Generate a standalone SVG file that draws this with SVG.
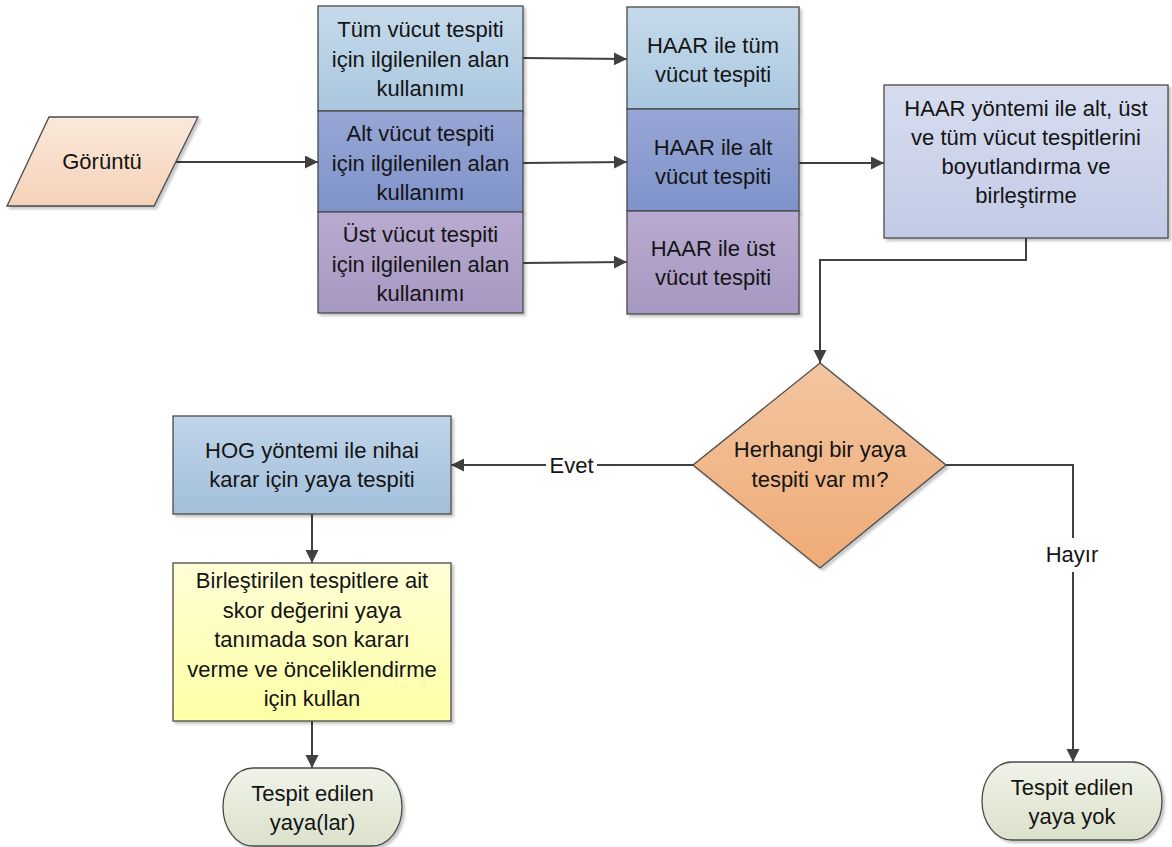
<svg xmlns="http://www.w3.org/2000/svg" width="1172" height="847" viewBox="0 0 1172 847">
<style>
.shape{stroke:#4a4a4a;stroke-width:1.3;filter:url(#sh)}
.conn{fill:none;stroke:#404040;stroke-width:2}
.arr{marker-end:url(#ah)}
text{font-family:'Liberation Sans',Arial,sans-serif;font-size:22px;fill:#141414;text-anchor:middle}
</style>
<defs>
<filter id="sh" x="-10%" y="-10%" width="125%" height="125%">
<feDropShadow dx="2.5" dy="2.5" stdDeviation="1.2" flood-color="#000" flood-opacity="0.22"/>
</filter>
<marker id="ah" markerUnits="userSpaceOnUse" markerWidth="14" markerHeight="14" refX="13" refY="6.5" orient="auto">
<path d="M0,0 L13,6.5 L0,13 z" fill="#404040"/>
</marker>
<linearGradient id="gPeach" x1="0" y1="0" x2="0" y2="1"><stop offset="0" stop-color="#fbe8da"/><stop offset="1" stop-color="#f5d2b9"/></linearGradient>
<linearGradient id="gLBlue" x1="0" y1="0" x2="0" y2="1"><stop offset="0" stop-color="#c6daea"/><stop offset="1" stop-color="#a9c7df"/></linearGradient>
<linearGradient id="gBlue" x1="0" y1="0" x2="0" y2="1"><stop offset="0" stop-color="#97a6d5"/><stop offset="1" stop-color="#7f93ca"/></linearGradient>
<linearGradient id="gLav" x1="0" y1="0" x2="0" y2="1"><stop offset="0" stop-color="#b8aad0"/><stop offset="1" stop-color="#a798c2"/></linearGradient>
<linearGradient id="gPeri" x1="0" y1="0" x2="0" y2="1"><stop offset="0" stop-color="#d7ddef"/><stop offset="1" stop-color="#c2cae6"/></linearGradient>
<linearGradient id="gOrange" x1="0" y1="0" x2="0" y2="1"><stop offset="0" stop-color="#f3c5a0"/><stop offset="1" stop-color="#eeab76"/></linearGradient>
<linearGradient id="gHog" x1="0" y1="0" x2="0" y2="1"><stop offset="0" stop-color="#bfd5e9"/><stop offset="1" stop-color="#a3bfdb"/></linearGradient>
<linearGradient id="gYel" x1="0" y1="0" x2="0" y2="1"><stop offset="0" stop-color="#fefed6"/><stop offset="1" stop-color="#ffffa6"/></linearGradient>
<linearGradient id="gTerm" x1="0" y1="0" x2="0" y2="1"><stop offset="0" stop-color="#f0f3e8"/><stop offset="1" stop-color="#dbe1cb"/></linearGradient>
</defs>

<g id="connectors">
<path class="conn arr" d="M176,162 H318"/>
<path class="conn arr" d="M523,58 L627,59"/>
<path class="conn arr" d="M523,163 L627,162"/>
<path class="conn arr" d="M523,263 L627,262"/>
<path class="conn arr" d="M799,163 H884"/>
<path class="conn arr" d="M1026,238 V260 H820 V363"/>
<path class="conn" d="M693,465 H597"/>
<path class="conn arr" d="M546,465 H451"/>
<text x="571.5" y="473">Evet</text>
<path class="conn arr" d="M312,514 V563"/>
<path class="conn arr" d="M312,721 V768"/>
<path class="conn" d="M946,465 H1073 V538"/>
<path class="conn arr" d="M1073,572 V762"/>
<text x="1072" y="562">Hayır</text>
</g>

<g id="goruntu">
<polygon class="shape" points="49,117 198,117 154,206 7,206" fill="url(#gPeach)"/>
<text x="102" y="169">Görüntü</text>
</g>

<g id="roi-tum">
<rect class="shape" x="318" y="6" width="205" height="105" fill="url(#gLBlue)"/>
<text x="420.5" y="37">Tüm vücut tespiti</text>
<text x="420.5" y="67">için ilgilenilen alan</text>
<text x="420.5" y="96">kullanımı</text>
</g>
<g id="roi-alt">
<rect class="shape" x="318" y="111" width="205" height="101" fill="url(#gBlue)"/>
<text x="420.5" y="141">Alt vücut tespiti</text>
<text x="420.5" y="171">için ilgilenilen alan</text>
<text x="420.5" y="200">kullanımı</text>
</g>
<g id="roi-ust">
<rect class="shape" x="318" y="212" width="205" height="101" fill="url(#gLav)"/>
<text x="420.5" y="242">Üst vücut tespiti</text>
<text x="420.5" y="272">için ilgilenilen alan</text>
<text x="420.5" y="301">kullanımı</text>
</g>

<g id="haar-tum">
<rect class="shape" x="627" y="7" width="172" height="102" fill="url(#gLBlue)"/>
<text x="713" y="53">HAAR ile tüm</text>
<text x="713" y="82">vücut tespiti</text>
</g>
<g id="haar-alt">
<rect class="shape" x="627" y="109" width="172" height="102" fill="url(#gBlue)"/>
<text x="713" y="155">HAAR ile alt</text>
<text x="713" y="184">vücut tespiti</text>
</g>
<g id="haar-ust">
<rect class="shape" x="627" y="211" width="172" height="103" fill="url(#gLav)"/>
<text x="713" y="256">HAAR ile üst</text>
<text x="713" y="285">vücut tespiti</text>
</g>

<g id="birlestirme">
<rect class="shape" x="884" y="85" width="284" height="153" fill="url(#gPeri)"/>
<text x="1026" y="116">HAAR yöntemi ile alt, üst</text>
<text x="1026" y="145">ve tüm vücut tespitlerini</text>
<text x="1026" y="174">boyutlandırma ve</text>
<text x="1026" y="203">birleştirme</text>
</g>

<g id="karar">
<polygon class="shape" points="820,363 946,465 820,568 693,465" fill="url(#gOrange)"/>
<text x="820" y="457">Herhangi bir yaya</text>
<text x="820" y="487">tespiti var mı?</text>
</g>

<g id="hog">
<rect class="shape" x="173" y="416" width="278" height="98" fill="url(#gHog)"/>
<text x="312" y="458">HOG yöntemi ile nihai</text>
<text x="312" y="487">karar için yaya tespiti</text>
</g>

<g id="skor">
<rect class="shape" x="173" y="563" width="278" height="158" fill="url(#gYel)"/>
<text x="312" y="588">Birleştirilen tespitlere ait</text>
<text x="312" y="617.5">skor değerini yaya</text>
<text x="312" y="647">tanımada son kararı</text>
<text x="312" y="676.5">verme ve önceliklendirme</text>
<text x="312" y="706">için kullan</text>
</g>

<g id="yaya-var">
<path class="shape" d="M253,768 H372 A30,39 0 0 1 372,846 H253 A30,39 0 0 1 253,768 Z" fill="url(#gTerm)"/>
<text x="312.5" y="801">Tespit edilen</text>
<text x="312.5" y="830">yaya(lar)</text>
</g>

<g id="yaya-yok">
<path class="shape" d="M1012,762 H1132 A30,39 0 0 1 1132,840 H1012 A30,39 0 0 1 1012,762 Z" fill="url(#gTerm)"/>
<text x="1072" y="795">Tespit edilen</text>
<text x="1072" y="824">yaya yok</text>
</g>
</svg>
